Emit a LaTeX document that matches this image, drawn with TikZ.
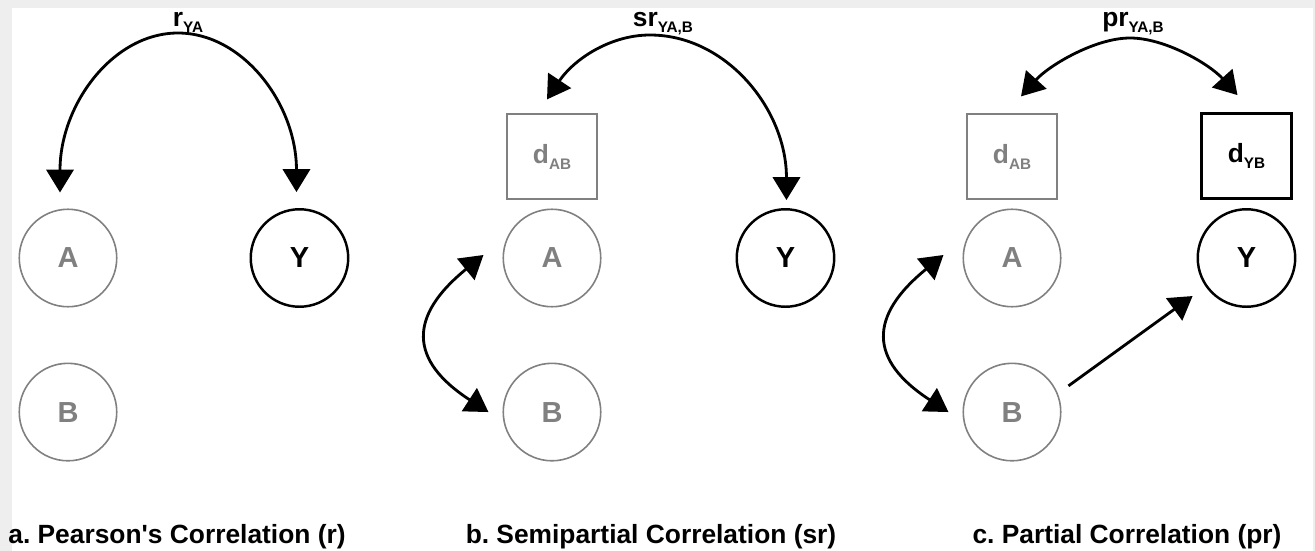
\documentclass[tikz,border=0pt]{standalone}
\usepackage{fontspec}
\setmainfont{Liberation Sans}
\usetikzlibrary{positioning,arrows.meta}
\definecolor{faint}{HTML}{808080}
\definecolor{margin}{HTML}{EEEEEE}
\newcommand{\lowidx}[1]{\raisebox{-3.4pt}{\fontsize{8.7}{9}\selectfont #1}}
\frenchspacing

\begin{document}
\begin{tikzpicture}%
  [x=0.02cm,y=-0.02cm,
   font=\bfseries\fontsize{15}{18}\selectfont,
   >={Triangle[length=13pt,width=15.5pt]},
   var/.style=
    {circle,draw=faint,text=faint,line width=0.9pt,minimum size=1.95cm,inner sep=0pt,
     font=\bfseries\fontsize{16.5}{18}\selectfont},
   dep/.style=
    {circle,draw,line width=1.4pt,minimum size=1.95cm,inner sep=0pt,
     font=\bfseries\fontsize{16.5}{18}\selectfont},
   resid/.style=
    {draw=faint,text=faint,line width=0.9pt,minimum width=1.8cm,minimum height=1.7cm,inner sep=0pt},
   residdep/.style=
    {draw,line width=1.4pt,minimum width=1.8cm,minimum height=1.7cm,inner sep=0pt},
   corr/.style={line width=1.6pt,<->},
   effect/.style={line width=1.6pt,->},
   coef/.style={anchor=base,inner sep=0pt},
   caption/.style={anchor=base,inner sep=0pt}
  ]
  \useasboundingbox (0,0) rectangle (1315,551);
  \fill[margin] (0,0) rectangle (1315,551);
  \fill[white] (12,8) rectangle (1313,551);

  % a. Pearson
  \node[var] (aA) at (68,258) {A};
  \node[var,below=1.1cm of aA] (aB) {B};
  \node[dep,right=2.64cm of aA] (aY) {Y};
  \node[coef] (ar) at (188,27) {r\lowidx{YA}};
  \coordinate (aTop) at (178,33);
  \draw[corr] ([shift={(-8,-16)}]aA.north) .. controls +(0,-88) and +(-65,0) .. (aTop)
    .. controls +(65,0) and +(0,-88) .. ([shift={(-3,-16)}]aY.north);
  \node[caption] (acap) at (177,543) {a. Pearson\textquotesingle s Correlation (r)};

  % b. Semipartial
  \node[var] (bA) at (552,258) {A};
  \node[var,below=1.1cm of bA] (bB) {B};
  \node[dep,right=2.68cm of bA] (bY) {Y};
  \node[resid,above=0.17cm of bA] (bd) {d\lowidx{AB}};
  \node[coef] (bsr) at (663,27) {sr\lowidx{YA,B}};
  \coordinate (bTop) at (650,35);
  \draw[corr] ([shift={(-5,-14)}]bd.north) .. controls +(26,-39) and +(-41,0) .. (bTop)
    .. controls +(76,0) and +(0,-91) .. ([shift={(1,-8)}]bY.north);
  \draw[corr] ([shift={(-19,-3)}]bA.west) .. controls +(-75,61) and +(-80,-52)
    .. ([shift={(-14,0)}]bB.west);
  \node[caption] (bcap) at (651,543) {b. Semipartial Correlation (sr)};

  % c. Partial
  \node[var] (cA) at (1012,258) {A};
  \node[var,below=1.1cm of cA] (cB) {B};
  \node[dep,right=2.7cm of cA] (cY) {Y};
  \node[resid,above=0.17cm of cA] (cdA) {d\lowidx{AB}};
  \node[residdep,above=0.17cm of cY] (cdY) {d\lowidx{YB}};
  \node[coef] (cpr) at (1133,27) {pr\lowidx{YA,B}};
  \coordinate (cTop) at (1130,38);
  \draw[corr] ([shift={(9,-17)}]cdA.north) .. controls +(28,-31) and +(-35,0) .. (cTop)
    .. controls +(35,0) and +(-28,-31) .. ([shift={(-9,-17)}]cdY.north);
  \draw[corr] ([shift={(-19,-3)}]cA.west) .. controls +(-75,61) and +(-80,-52)
    .. ([shift={(-14,0)}]cB.west);
  \draw[effect,shorten <=0.26cm,shorten >=0.32cm] (cB.22) -- (cY.215);
  \node[caption] (ccap) at (1127,543) {c. Partial Correlation (pr)};
\end{tikzpicture}
\end{document}
